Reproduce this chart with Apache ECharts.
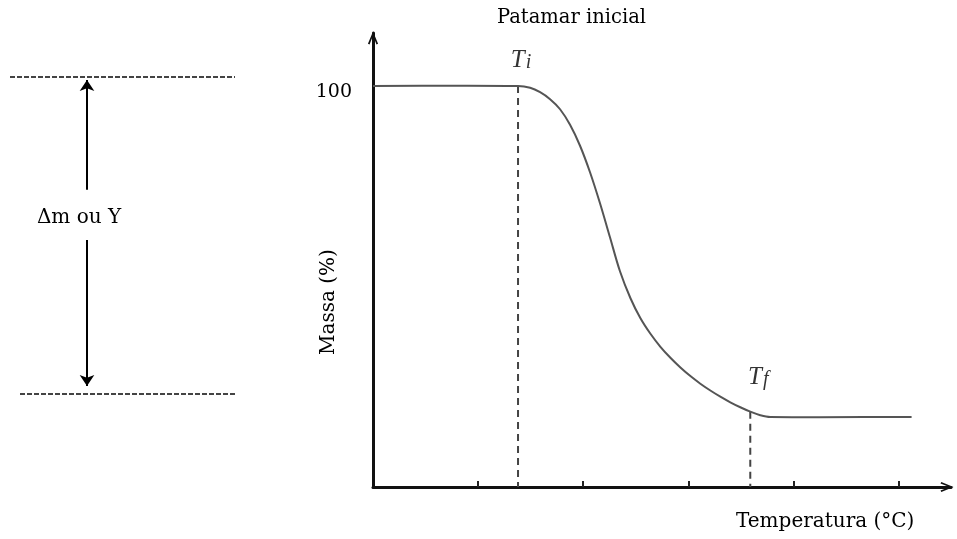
<!DOCTYPE html>
<html><head><meta charset="utf-8">
<script src="https://cdn.jsdelivr.net/npm/echarts@6/dist/echarts.min.js"></script>
<style>html,body{margin:0;padding:0;background:#fff}#c{width:957px;height:539px}</style>
</head><body><div id="c"></div>
<script>
// ---- data ----
const temperature = [0, 2.76, 2.99, 3.18, 3.37, 3.56, 3.75, 3.94, 4.13, 4.32, 4.51, 4.70, 4.90, 5.09, 5.28, 5.47, 5.66, 5.85, 6.04, 6.23, 6.42, 6.61, 6.80, 6.99, 7.18, 7.37, 7.56, 10.25];
const mass        = [100, 100, 99.55, 98.43, 96.68, 94.19, 90.32, 85.09, 78.48, 70.75, 62.27, 53.79, 47.06, 42.07, 38.20, 34.96, 32.22, 29.80, 27.66, 25.76, 24.06, 22.52, 21.12, 19.88, 18.78, 17.91, 17.46, 17.46];
const xTicks = [2, 4, 6, 8, 10];
const yLabels = [100];
const onset = [2.76, 100];     // Ti
const endset = [7.18, 18.78];  // Tf
const deltaLevels = [102.2, 23.2];          // dashed reference levels (left schematic)
const deltaArrowUp = [74.1, 101.5];
const deltaArrowDown = [61.6, 25.2];
const deltaTextY = 67.1;
const texts = {
  title: 'Patamar inicial',
  xName: 'Temperatura (°C)',
  yName: 'Massa (%)',
  delta: 'Δm ou Y'
};

const FONT = 'DejaVu Serif';
const curvePts = temperature.map((t, i) => [t, mass[i]]);
const arrowPath = 'path://M5,0 L10,12 L8.4,12.8 L5,4 L1.6,12.8 L0,12 Z';

// smooth curve through the data points, positioned via the axis scales (api.coord)
function renderCurve(params, api) {
  const p = curvePts.map(d => api.coord(d));
  const n = p.length;
  const dir = p.map((pt, i) => {
    const a = p[Math.max(0, i - 1)], b = p[Math.min(n - 1, i + 1)];
    const dx = b[0] - a[0], dy = b[1] - a[1];
    const l = Math.hypot(dx, dy) || 1;
    return [dx / l, dy / l];
  });
  let d = 'M' + p[0][0] + ' ' + p[0][1];
  for (let i = 0; i < n - 1; i++) {
    const a = p[i], b = p[i + 1];
    const len = Math.hypot(b[0] - a[0], b[1] - a[1]) / 3;
    const c1 = [a[0] + dir[i][0] * len, a[1] + dir[i][1] * len];
    const c2 = [b[0] - dir[i + 1][0] * len, b[1] - dir[i + 1][1] * len];
    d += ' C' + c1[0] + ' ' + c1[1] + ' ' + c2[0] + ' ' + c2[1] + ' ' + b[0] + ' ' + b[1];
  }
  return {type: 'path', shape: {pathData: d}, style: {fill: 'none', stroke: '#555', lineWidth: 2}};
}

const chart = echarts.init(document.getElementById('c'), null, {renderer: 'canvas'});
chart.setOption({
  animation: false,
  backgroundColor: '#fff',
  grid: [
    {left: 373, top: 33, right: 6, bottom: 52},
    {left: 0, top: 33, width: 240, bottom: 52}
  ],
  xAxis: [
    {
      type: 'value', gridIndex: 0, min: 0, max: 11,
      axisLine: {show: true, lineStyle: {color: '#111', width: 3}, symbol: ['none', arrowPath], symbolSize: [11, 13], symbolOffset: [0, -4]},
      axisTick: {show: true, inside: true, length: 6, customValues: xTicks, lineStyle: {color: '#222', width: 2}},
      axisLabel: {show: false},
      splitLine: {show: false}
    },
    {type: 'value', gridIndex: 1, min: 0, max: 240, show: false}
  ],
  yAxis: [
    {
      type: 'value', gridIndex: 0, min: 0, max: 113.2,
      axisLine: {show: true, lineStyle: {color: '#111', width: 3}, symbol: ['none', arrowPath], symbolSize: [11, 13], symbolOffset: [0, -5]},
      axisTick: {show: false},
      axisLabel: {show: true, customValues: yLabels, margin: 21,
        formatter: v => '{a|' + v + '}',
        rich: {a: {fontFamily: FONT, fontSize: 19, color: '#000', padding: [12, 0, 0, 0]}}},
      splitLine: {show: false}
    },
    {type: 'value', gridIndex: 1, min: 0, max: 113.2, show: false}
  ],
  series: [
    {
      type: 'custom', xAxisIndex: 0, yAxisIndex: 0, data: [[temperature[0], mass[0]]],
      renderItem: renderCurve, silent: true, z: 3
    },
    {
      type: 'line', xAxisIndex: 0, yAxisIndex: 0, data: [[onset[0], onset[1]], [onset[0], 0]],
      symbol: 'none', lineStyle: {color: '#444', width: 2, type: [7, 5]}, z: 2
    },
    {
      type: 'line', xAxisIndex: 0, yAxisIndex: 0, data: [[endset[0], endset[1]], [endset[0], 0]],
      symbol: 'none', lineStyle: {color: '#444', width: 2, type: [7, 5]}, z: 2
    },
    {
      type: 'scatter', xAxisIndex: 0, yAxisIndex: 0, symbolSize: 0, silent: true,
      data: [
        {value: onset, label: {show: true, position: 'top', distance: 13, offset: [3, 0],
          formatter: '{t|T}{s|i}'}},
        {value: endset, label: {show: true, position: 'top', distance: 22, offset: [8, 0],
          formatter: '{t|T}{s|f}'}}
      ],
      label: {
        rich: {
          t: {fontFamily: 'Liberation Serif', fontStyle: 'italic', fontSize: 25, color: '#000'},
          s: {fontFamily: 'Liberation Serif', fontStyle: 'italic', fontSize: 20, color: '#000', padding: [5, 0, 0, 1]}
        }
      }
    },
    // left schematic
    {
      type: 'line', xAxisIndex: 1, yAxisIndex: 1, data: [[10, deltaLevels[0]], [235, deltaLevels[0]]],
      symbol: 'none', lineStyle: {color: '#444', width: 2, type: [5, 2]}
    },
    {
      type: 'line', xAxisIndex: 1, yAxisIndex: 1, data: [[20, deltaLevels[1]], [235, deltaLevels[1]]],
      symbol: 'none', lineStyle: {color: '#444', width: 2, type: [5, 2]}
    },
    {
      type: 'lines', coordinateSystem: 'cartesian2d', xAxisIndex: 1, yAxisIndex: 1,
      symbol: ['none', 'arrow'], symbolSize: 11,
      lineStyle: {color: '#000', width: 2, opacity: 1},
      data: [
        {coords: [[87, deltaArrowUp[0]], [87, deltaArrowUp[1]]]},
        {coords: [[87, deltaArrowDown[0]], [87, deltaArrowDown[1]]]}
      ]
    },
    {
      type: 'scatter', xAxisIndex: 1, yAxisIndex: 1, symbolSize: 0, silent: true,
      data: [[79, deltaTextY]],
      label: {show: true, position: [0, 0], align: 'center', verticalAlign: 'middle', opacity: 1,
        formatter: texts.delta, fontFamily: FONT, fontSize: 20, color: '#000', textBorderWidth: 0}
    }
  ],
  graphic: [
    {type: 'text', left: 497, top: 8, style: {text: texts.title, fontFamily: FONT, fontSize: 19.5, fill: '#000'}},
    {type: 'text', left: 736, top: 512, style: {text: texts.xName, fontFamily: FONT, fontSize: 20, fill: '#000'}},
    {type: 'text', x: 329, y: 302, rotation: Math.PI / 2,
      style: {text: texts.yName, fontFamily: FONT, fontSize: 20, fill: '#000', align: 'center', verticalAlign: 'middle'}}
  ]
});
</script>
</body></html>
